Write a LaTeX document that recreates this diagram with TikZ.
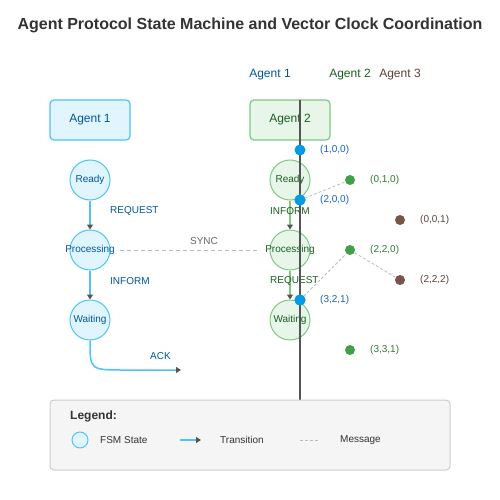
\documentclass[tikz,border=0pt]{standalone}
\usepackage{fontspec}
\setmainfont{Liberation Sans}
\usetikzlibrary{arrows.meta}
\definecolor{titlec}{HTML}{333333}
\definecolor{aonefill}{HTML}{E1F5FE}
\definecolor{aoneline}{HTML}{4FC3F7}
\definecolor{aonetext}{HTML}{01579B}
\definecolor{atwofill}{HTML}{E8F5E9}
\definecolor{atwoline}{HTML}{81C784}
\definecolor{atwotext}{HTML}{1B5E20}
\definecolor{athreetext}{HTML}{5D4037}
\definecolor{bluedot}{HTML}{039BE5}
\definecolor{greendot}{HTML}{43A047}
\definecolor{browndot}{HTML}{795548}
\definecolor{darkline}{HTML}{555555}
\definecolor{msgline}{HTML}{BBBBBB}
\definecolor{legfill}{HTML}{F5F5F5}
\definecolor{legline}{HTML}{CCCCCC}
\definecolor{bluelab}{HTML}{1565C0}
\definecolor{greenlab}{HTML}{2E7D32}
\newcommand{\zw}[1]{\makebox[0pt]{#1}}
\tikzset{
  agentbox/.style={rounded corners=4pt, line width=1.2pt, minimum width=80pt, minimum height=40pt, inner sep=0pt, font=\fontsize{12}{14}\selectfont},
  stateone/.style={circle, draw=aoneline, fill=aonefill, line width=1pt, minimum size=40pt, inner sep=0pt, text=aonetext, font=\fontsize{10}{12}\selectfont},
  statetwo/.style={circle, draw=atwoline, fill=atwofill, line width=1pt, minimum size=40pt, inner sep=0pt, text=atwotext, font=\fontsize{10}{12}\selectfont},
  transone/.style={draw=aoneline, line width=1.5pt, -{Triangle[length=5pt,width=6pt,fill=darkline,color=darkline]}},
  transtwo/.style={draw=atwoline, line width=1.5pt, -{Triangle[length=5pt,width=6pt,fill=darkline,color=darkline]}},
  msg/.style={draw=msgline, line width=1pt, dash pattern=on 4pt off 3pt},
  lab/.style={inner sep=0pt, font=\fontsize{10}{12}\selectfont},
  dotblue/.style={circle, fill=bluedot, minimum size=11pt, inner sep=0pt},
  dotgreen/.style={circle, fill=greendot, minimum size=10pt, inner sep=0pt},
  dotbrown/.style={circle, fill=browndot, minimum size=10pt, inner sep=0pt},
}
\begin{document}
\begin{tikzpicture}[x=1pt,y=-1pt]
\useasboundingbox (0,0) rectangle (500,500);
\fill[white] (0,0) rectangle (500,500);
% title
\node[text=titlec, font=\bfseries\fontsize{16}{19}\selectfont] (title) at (250,25) {Agent Protocol State Machine and Vector Clock Coordination};
% headers
\node[lab, text=aonetext, font=\fontsize{12}{14}\selectfont] (h1) at (270,75) {Agent 1};
\node[lab, text=atwotext, font=\fontsize{12}{14}\selectfont] (h2) at (350,75) {Agent 2};
\node[lab, text=athreetext, font=\fontsize{12}{14}\selectfont] (h3) at (400,75) {Agent 3};
% agent boxes
\node[agentbox, draw=aoneline, fill=aonefill, text=aonetext] (a1) at (90,120) {Agent 1};
\node[agentbox, draw=atwoline, fill=atwofill, text=atwotext] (a2) at (290,120) {Agent 2};
% states agent 1
\node[stateone] (r1) at (90,180) {\zw{Ready}};
\node[stateone] (p1) at (90,250) {\zw{Processing}};
\node[stateone] (w1) at (90,320) {\zw{Waiting}};
% states agent 2
\node[statetwo] (r2) at (290,180) {\zw{Ready}};
\node[statetwo] (p2) at (290,250) {\zw{Processing}};
\node[statetwo] (w2) at (290,320) {\zw{Waiting}};
% transitions agent 1
\draw[transone] (r1.south) -- (p1.north);
\draw[transone] (p1.south) -- (w1.north);
\coordinate (ackend) at (181,370);
\draw[transone] (w1.south) .. controls (90,370) .. (125,370) -- (ackend);
\node[lab, text=aonetext, anchor=west] (lreq1) at (110,211) {REQUEST};
\node[lab, text=aonetext, anchor=west] (linf1) at (110,281) {INFORM};
\node[lab, text=aonetext, anchor=west] (lack) at (150,356) {ACK};
% transitions agent 2
\draw[transtwo] (r2.south) -- (p2.north);
\draw[transtwo] (p2.south) -- (w2.north);
\node[lab, text=atwotext, anchor=west] (linf2) at (270,211) {INFORM};
\node[lab, text=atwotext, anchor=west] (lreq2) at (270,281) {REQUEST};
% sync
\coordinate (syncA) at (120,250);
\coordinate (syncB) at (260,250);
\draw[msg] (syncA) -- (syncB);
\node[lab, text=darkline!90] (lsync) at (204,241) {SYNC};
% timeline
\coordinate (tlA) at (300,100);
\coordinate (tlB) at (300,400);
\draw[darkline, line width=1.6pt] (tlA) -- (tlB);
% vector clock dots
\node[dotblue] (v100) at (300,150) {};
\node[dotgreen] (v010) at (350,180) {};
\node[dotblue] (v200) at (300,200) {};
\node[dotbrown] (v001) at (400,220) {};
\node[dotgreen] (v220) at (350,250) {};
\node[dotbrown] (v222) at (400,280) {};
\node[dotblue] (v321) at (300,300) {};
\node[dotgreen] (v331) at (350,350) {};
\draw[msg, line width=0.8pt, dash pattern=on 3pt off 2pt] (v200.center) -- (v010);
\draw[msg, line width=0.8pt, dash pattern=on 3pt off 2pt] (v321.center) -- (v220);
\draw[msg, line width=0.8pt, dash pattern=on 3pt off 2pt] (v220) -- (v222);
\node[dotblue] at (300,200) {};
\node[dotblue] at (300,300) {};
% clock labels
\node[lab, text=bluelab, anchor=west] (t100) at (320,150) {(1,0,0)};
\node[lab, text=greenlab, anchor=west] (t010) at (370,180) {(0,1,0)};
\node[lab, text=bluelab, anchor=west] (t200) at (320,200) {(2,0,0)};
\node[lab, text=athreetext, anchor=west] (t001) at (420,220) {(0,0,1)};
\node[lab, text=greenlab, anchor=west] (t220) at (370,250) {(2,2,0)};
\node[lab, text=athreetext, anchor=west] (t222) at (420,280) {(2,2,2)};
\node[lab, text=bluelab, anchor=west] (t321) at (320,300) {(3,2,1)};
\node[lab, text=greenlab, anchor=west] (t331) at (370,350) {(3,3,1)};
% legend
\node[draw=legline, fill=legfill, rounded corners=4pt, line width=1pt, minimum width=400pt, minimum height=70pt, inner sep=0pt] (legend) at (250,435) {};
\node[lab, anchor=west, text=titlec, font=\bfseries\fontsize{12}{14}\selectfont] (legt) at (70,416) {Legend:};
\node[circle, draw=aoneline, fill=aonefill, line width=1pt, minimum size=16pt, inner sep=0pt] (legc) at (80,440) {};
\node[lab, anchor=west, text=titlec] (legc t) at (100,440) {FSM State};
\coordinate (lgA) at (180,440);
\coordinate (lgB) at (201,440);
\draw[transone] (lgA) -- (lgB);
\node[lab, anchor=west, text=titlec] (legtr) at (220,440) {Transition};
\coordinate (lmA) at (300,440);
\coordinate (lmB) at (320,440);
\draw[msg, dash pattern=on 3pt off 2pt] (lmA) -- (lmB);
\node[lab, anchor=west, text=titlec] (legm) at (340,440) {Message};
\end{tikzpicture}
\end{document}
